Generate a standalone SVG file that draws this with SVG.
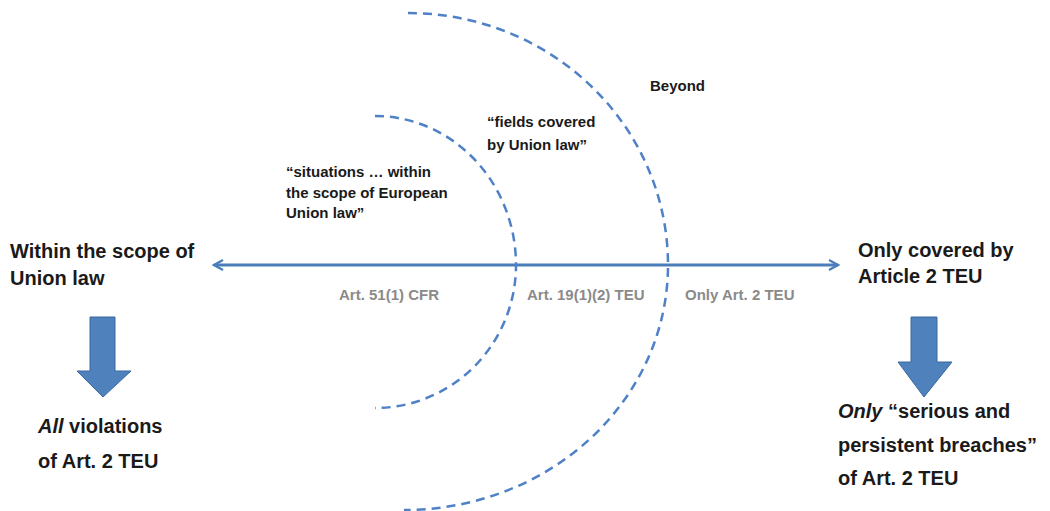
<svg xmlns="http://www.w3.org/2000/svg" width="1050" height="511" viewBox="0 0 1050 511">
<style>
.t{font-family:"Liberation Sans",Arial,sans-serif;font-weight:bold;fill:#1a1a1a}
.big{font-size:20px}
.mid{font-size:15px}
.g{font-size:15px;fill:#8a8a8a}
.arc{fill:none;stroke:#4f81c7;stroke-width:2.5;stroke-dasharray:9 6}
.blk{fill:#4f81bd;stroke:#3a68a0;stroke-width:1}
</style>
<defs>
<marker id="ah" viewBox="0 0 12 12" refX="10" refY="6" markerWidth="12" markerHeight="12" markerUnits="userSpaceOnUse" orient="auto-start-reverse">
<path d="M1,1 L10,6 L1,11" fill="none" stroke="#4a7ebb" stroke-width="2.2"/>
</marker>
</defs>
<g id="connectors">
<line x1="214" y1="265" x2="838" y2="265" stroke="#4a7ebb" stroke-width="3" marker-start="url(#ah)" marker-end="url(#ah)"/>
</g>
<g id="arcs">
<path class="arc" d="M375,116 A141,149 0 0 1 516,265 A141,143 0 0 1 375,408"/>
<path class="arc" d="M408,13 A260,252 0 0 1 668,265 A264,245 0 0 1 404,510"/>
</g>
<g id="left-node">
<text class="t big" x="10" y="258">Within the scope of</text>
<text class="t big" x="10" y="285">Union law</text>
</g>
<g id="left-arrow">
<path class="blk" d="M90,317 L115,317 L115,371 L131,371 L103,397 L77,371 L90,371 Z"/>
</g>
<g id="left-result">
<text class="t big" x="38" y="433"><tspan font-style="italic">All</tspan> violations</text>
<text class="t big" x="38" y="468">of Art. 2 TEU</text>
</g>
<g id="right-node">
<text class="t big" x="858" y="257">Only covered by</text>
<text class="t big" x="858" y="283">Article 2 TEU</text>
</g>
<g id="right-arrow">
<path class="blk" d="M911,317 L937,317 L937,362 L952,362 L924,397 L898,362 L911,362 Z"/>
</g>
<g id="right-result">
<text class="t big" x="838" y="418"><tspan font-style="italic">Only</tspan> “serious and</text>
<text class="t big" x="838" y="452">persistent breaches”</text>
<text class="t big" x="838" y="485">of Art. 2 TEU</text>
</g>
<g id="inner-label">
<text class="t mid" x="286" y="177">“situations … within</text>
<text class="t mid" x="286" y="198">the scope of European</text>
<text class="t mid" x="286" y="218">Union law”</text>
</g>
<g id="middle-label">
<text class="t mid" x="487" y="127">“fields covered</text>
<text class="t mid" x="487" y="150">by Union law”</text>
</g>
<g id="outer-label">
<text class="t mid" x="650" y="91">Beyond</text>
</g>
<g id="zone-labels">
<text class="t g" x="339" y="300">Art. 51(1) CFR</text>
<text class="t g" x="527" y="300">Art. 19(1)(2) TEU</text>
<text class="t g" x="685" y="300">Only Art. 2 TEU</text>
</g>
</svg>
